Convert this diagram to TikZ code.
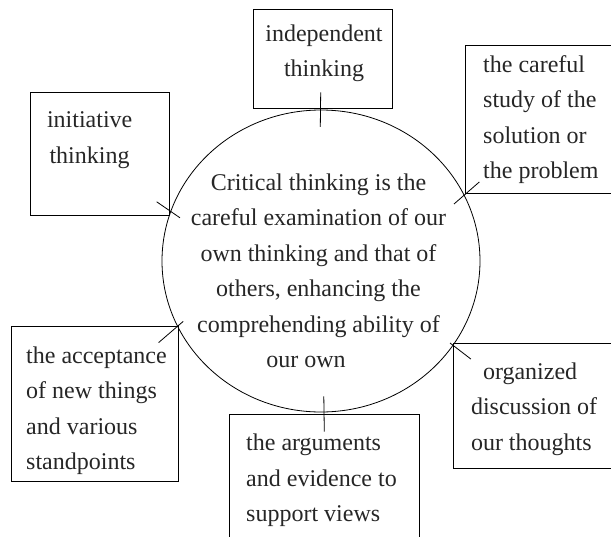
\documentclass[tikz,border=0pt]{standalone}
\usepackage{fontspec}
\setmainfont{Liberation Serif}
\usetikzlibrary{shapes.geometric}
\tikzset{
  box/.style={draw, line width=0.8pt, inner sep=0pt, anchor=north west},
  txt/.style={inner sep=0pt, font=\fontsize{24}{35.5}\selectfont, text=black!85},
  tick/.style={line width=0.8pt},
}
\begin{document}
\begin{tikzpicture}[x=1pt, y=-1pt]
\useasboundingbox (0,0) rectangle (611,536);
\clip (0,0) rectangle (611,536);
% central circle
\node[draw, ellipse, line width=0.8pt, inner sep=0pt, minimum width=318pt, minimum height=302pt] (circ) at (321,261) {};
\node[txt, align=center, anchor=north] (ctext) at (318.5,173.6)
  {Critical thinking is the\\careful examination of our\\own thinking and that of\\others, enhancing the\\comprehending ability of\\our own\hspace*{25pt}};
% boxes
\node[box, minimum width=138.4pt, minimum height=99.5pt] (ind) at (253.3,8.5) {};
\node[box, minimum width=160pt, minimum height=148.6pt] (car) at (464.5,44.6) {};
\node[box, minimum width=138.3pt, minimum height=122.4pt] (ini) at (30.4,92.3) {};
\node[box, minimum width=166.7pt, minimum height=155.2pt] (acc) at (11.3,325.8) {};
\node[box, minimum width=190.6pt, minimum height=135pt] (arg) at (228.6,414) {};
\node[box, minimum width=165pt, minimum height=125.8pt] (org) at (452.8,342.6) {};
% box texts
\node[txt, align=center, anchor=north] (tind) at (324,24.3) {independent\\thinking};
\node[txt, align=left, anchor=north west] (tcar) at (483,55.2) {the careful\\study of the\\solution or\\the problem};
\node[txt, align=left, anchor=north west] (tini) at (46.8,111.9) {initiative\\\hspace*{2.5pt}thinking};
\node[txt, align=left, anchor=north west] (tacc) at (26,346.6) {the acceptance\\of new things\\and various\\standpoints};
\node[txt, align=left, anchor=north west] (targ) at (246,433.8) {the arguments\\and evidence to\\support views};
\node[txt, align=left, anchor=north west] (torg) at (470.8,362.6) {\hspace*{12pt}organized\\discussion of\\our thoughts};
% connector ticks
\draw[tick] ([shift={(-2.2,-16.4)}]ind.south) -- ([shift={(-0.7,17.2)}]circ.north);
\draw[tick] ([shift={(2.8,-16)}]circ.south) -- ([shift={(0,17.5)}]arg.north);
\draw[tick] ([shift={(-12.8,-13.7)}]ini.south east) -- ([shift={(-141,-43.2)}]circ.center);
\draw[tick] ([shift={(14.8,-12)}]car.south west) -- ([shift={(133,-57)}]circ.center);
\draw[tick] ([shift={(-137.8,60.4)}]circ.center) -- ([shift={(-20.2,16.8)}]acc.north east);
\draw[tick] ([shift={(129,82)}]circ.center) -- ([shift={(18,16.4)}]org.north west);
\end{tikzpicture}
\end{document}
